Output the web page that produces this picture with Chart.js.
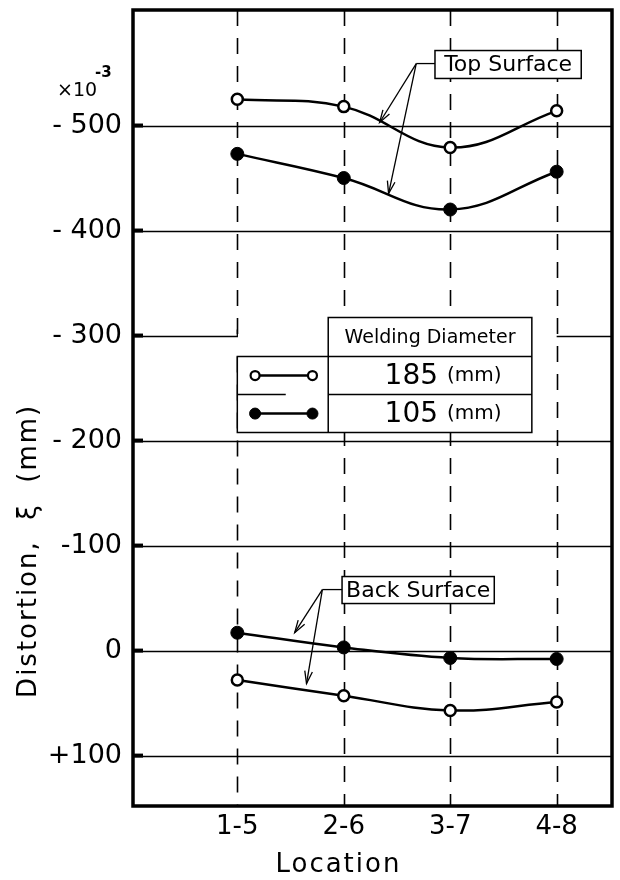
<!DOCTYPE html>
<html>
<head>
<meta charset="utf-8">
<script src="https://cdn.jsdelivr.net/npm/chart.js@4/dist/chart.umd.min.js"></script>
<style>
  html, body { margin: 0; padding: 0; background: #fff; }
  #wrap { width: 620px; height: 880px; }
</style>
</head>
<body>
<div id="wrap"><canvas id="chart" width="620" height="880"></canvas></div>
<script>
// --- Data ---
const locations = ['1-5', '2-6', '3-7', '4-8'];
const locationPos = [1, 2, 3, 4];

// distortion (x10^-3 mm), negative is upward on this plot
const top185 = [-525, -518, -479, -514];
const top105 = [-473, -450, -420, -456];
const back105 = [-17, -3, 7, 8];
const back185 = [28, 43, 57, 49];

const yTickValues = [-500, -400, -300, -200, -100, 0, 100];
const yTickLabels = ['- 500', '- 400', '- 300', '- 200', '-100', '0', '+100'];

const FONT = 'DejaVu Sans';

// --- Annotation layout (in data units) ---
const legendBox = { x0: 1.0, xm: 1.854, x1: 3.767, top: -317.1, r1: -280, r2: -243.8, bottom: -207.6 };
const topLabel = { x0: 2.857, x1: 4.231, y0: -571.4, y1: -544.8, corner: [2.681, -559], tips: [[2.337, -502.9], [2.421, -435.2]] };
const backLabel = { x0: 1.984, x1: 3.414, y0: -70.5, y1: -44.8, corner: [1.799, -58.1], tips: [[1.539, -17.1], [1.650, 31.4]] };

function pts(vals) {
  return vals.map((v, i) => ({ x: locationPos[i], y: v }));
}

function series(label, vals, filled) {
  return {
    label,
    data: pts(vals),
    borderColor: '#000',
    borderWidth: 2.5,
    tension: 0.4,
    pointRadius: filled ? 6.5 : 5.5,
    pointBackgroundColor: filled ? '#000' : '#fff',
    pointBorderColor: '#000',
    pointBorderWidth: filled ? 1 : 2.5,
    clip: false
  };
}

function arrow(ctx, x0, y0, x1, y1) {
  ctx.beginPath();
  ctx.moveTo(x0, y0);
  ctx.lineTo(x1, y1);
  ctx.stroke();
  const a = Math.atan2(y1 - y0, x1 - x0);
  const len = 13, spread = 0.3;
  ctx.beginPath();
  ctx.moveTo(x1 - len * Math.cos(a - spread), y1 - len * Math.sin(a - spread));
  ctx.lineTo(x1, y1);
  ctx.lineTo(x1 - len * Math.cos(a + spread), y1 - len * Math.sin(a + spread));
  ctx.stroke();
}

const paperPlugin = {
  id: 'paper',
  beforeDatasetsDraw(chart) {
    const { ctx, chartArea: a, scales: { x, y } } = chart;
    ctx.save();
    ctx.strokeStyle = '#000';
    // horizontal grid lines, -300 broken by the legend table
    ctx.lineWidth = 1.3;
    yTickValues.forEach(v => {
      const py = Math.round(y.getPixelForValue(v)) + 0.5;
      ctx.beginPath();
      if (v === -300) {
        ctx.moveTo(a.left, py); ctx.lineTo(x.getPixelForValue(1), py);
        ctx.lineTo(x.getPixelForValue(1), py - 7);
        ctx.moveTo(x.getPixelForValue(4), py); ctx.lineTo(a.right, py);
      } else {
        ctx.moveTo(a.left, py); ctx.lineTo(a.right, py);
      }
      ctx.stroke();
    });
    // vertical dashed lines at each location
    ctx.lineWidth = 1.6;
    ctx.setLineDash([16, 12]);
    locationPos.forEach(p => {
      const px = Math.round(x.getPixelForValue(p)) + 0.5;
      ctx.beginPath();
      if (p === 1) {
        ctx.moveTo(px, a.top); ctx.lineTo(px, y.getPixelForValue(-300));
        ctx.moveTo(px, y.getPixelForValue(-280)); ctx.lineTo(px, a.bottom);
      } else {
        ctx.moveTo(px, a.top); ctx.lineTo(px, a.bottom);
      }
      ctx.stroke();
    });
    ctx.setLineDash([]);
    ctx.restore();
  },
  afterDatasetsDraw(chart) {
    const { ctx, chartArea: a, scales: { x, y } } = chart;
    const X = v => x.getPixelForValue(v), Y = v => y.getPixelForValue(v);
    ctx.save();
    ctx.strokeStyle = '#000';
    ctx.fillStyle = '#000';

    // frame
    ctx.lineWidth = 3.5;
    ctx.strokeRect(a.left, a.top, a.right - a.left, a.bottom - a.top);
    // small tick marks inside left axis
    ctx.lineWidth = 4;
    yTickValues.forEach(v => {
      ctx.beginPath();
      ctx.moveTo(a.left, Y(v)); ctx.lineTo(a.left + 10, Y(v));
      ctx.stroke();
    });

    // legend table
    const L = legendBox;
    ctx.fillStyle = '#fff';
    ctx.fillRect(X(L.xm), Y(L.top), X(L.x1) - X(L.xm), Y(L.bottom) - Y(L.top));
    ctx.fillRect(X(L.x0), Y(L.r1), X(L.xm) - X(L.x0), Y(L.bottom) - Y(L.r1));
    ctx.lineWidth = 1.5;
    ctx.beginPath();
    ctx.rect(X(L.xm), Y(L.top), X(L.x1) - X(L.xm), Y(L.bottom) - Y(L.top));
    ctx.rect(X(L.x0), Y(L.r1), X(L.x1) - X(L.x0), Y(L.bottom) - Y(L.r1));
    ctx.moveTo(X(L.xm), Y(L.r2)); ctx.lineTo(X(L.x1), Y(L.r2));
    ctx.moveTo(X(L.x0), Y(L.r2)); ctx.lineTo(X(1.455), Y(L.r2));
    ctx.stroke();
    // legend symbols
    const symY = [(L.r1 + L.r2) / 2, (L.r2 + L.bottom) / 2];
    [false, true].forEach((filled, i) => {
      const sy = Y(symY[i]), sx0 = X(1.167), sx1 = X(1.706);
      ctx.lineWidth = 2.5;
      ctx.beginPath(); ctx.moveTo(sx0, sy); ctx.lineTo(sx1, sy); ctx.stroke();
      [sx0, sx1].forEach(sx => {
        ctx.beginPath();
        ctx.arc(sx, sy, filled ? 5.5 : 4.5, 0, Math.PI * 2);
        ctx.fillStyle = filled ? '#000' : '#fff';
        ctx.fill();
        ctx.lineWidth = filled ? 1 : 2.2;
        ctx.stroke();
      });
    });
    // legend text
    ctx.fillStyle = '#000';
    ctx.textBaseline = 'middle';
    ctx.textAlign = 'center';
    ctx.font = '19px ' + FONT;
    ctx.fillText('Welding Diameter', (X(L.xm) + X(L.x1)) / 2, (Y(L.top) + Y(L.r1)) / 2 + 1);
    ['185', '105'].forEach((d, i) => {
      const cy = Y(symY[i]) + 1;
      const cx = (X(L.xm) + X(L.x1)) / 2 + 12;
      ctx.textAlign = 'right';
      ctx.font = '28px ' + FONT;
      ctx.fillText(d, cx - 4, cy);
      ctx.textAlign = 'left';
      ctx.font = '20px ' + FONT;
      ctx.fillText('(mm)', cx + 5, cy - 1);
    });

    // callout boxes with arrows
    [[topLabel, 'Top Surface'], [backLabel, 'Back Surface']].forEach(([b, txt]) => {
      const bx = X(b.x0), by = Y(b.y0), bw = X(b.x1) - bx, bh = Y(b.y1) - by;
      ctx.fillStyle = '#fff';
      ctx.fillRect(bx, by, bw, bh);
      ctx.lineWidth = 1.5;
      ctx.strokeRect(bx, by, bw, bh);
      ctx.fillStyle = '#000';
      ctx.font = '22px ' + FONT;
      ctx.textAlign = 'center';
      ctx.textBaseline = 'middle';
      ctx.fillText(txt, bx + bw / 2, by + bh / 2 + 1);
      const cx = X(b.corner[0]), cy = Y(b.corner[1]);
      ctx.lineWidth = 1.3;
      ctx.beginPath(); ctx.moveTo(bx, cy); ctx.lineTo(cx, cy); ctx.stroke();
      b.tips.forEach(t => arrow(ctx, cx, cy, X(t[0]), Y(t[1])));
    });

    // axis unit x10^-3
    ctx.textAlign = 'left';
    ctx.textBaseline = 'alphabetic';
    ctx.font = '19px ' + FONT;
    ctx.fillText('×10', a.left - 76, Y(-528));
    ctx.font = 'bold 15px ' + FONT;
    ctx.fillText('-3', a.left - 38, Y(-546));

    // y axis title
    ctx.save();
    ctx.translate(a.left - 104, Y(-95));
    ctx.rotate(-Math.PI / 2);
    ctx.textAlign = 'center';
    ctx.textBaseline = 'middle';
    ctx.font = '26px ' + FONT;
    ctx.letterSpacing = '2px';
    ctx.fillText('Distortion,  ξ  (mm)', 0, 0);
    ctx.restore();

    // x axis title
    ctx.textAlign = 'center';
    ctx.font = '26px ' + FONT;
    ctx.letterSpacing = '2px';
    ctx.fillText('Location', X(1.95), a.bottom + 66);
    ctx.restore();
  }
};

new Chart(document.getElementById('chart'), {
  type: 'line',
  data: {
    datasets: [
      series('Top 185', top185, false),
      series('Top 105', top105, true),
      series('Back 105', back105, true),
      series('Back 185', back185, false)
    ]
  },
  options: {
    responsive: false,
    animation: false,
    layout: { padding: { top: 10, right: 2, left: 0, bottom: 0 } },
    plugins: { legend: { display: false }, tooltip: { enabled: false } },
    scales: {
      x: {
        type: 'linear', min: 0.02, max: 4.52,
        afterBuildTicks: s => { s.ticks = locationPos.map(v => ({ value: v })); },
        afterFit: s => { s.height = 74; s.paddingLeft = 0; s.paddingRight = 0; },
        ticks: {
          callback: v => locations[locationPos.indexOf(v)],
          font: { family: FONT, size: 26 }, color: '#000',
          padding: 6, maxRotation: 0, autoSkip: false
        },
        grid: { display: false, drawTicks: false },
        border: { display: false }
      },
      y: {
        type: 'linear', reverse: true, min: -610, max: 148,
        afterBuildTicks: s => { s.ticks = yTickValues.map(v => ({ value: v })); },
        afterFit: s => { s.width = 133; s.paddingTop = 0; s.paddingBottom = 0; },
        ticks: {
          callback: v => yTickLabels[yTickValues.indexOf(v)],
          font: { family: FONT, size: 27 }, color: '#000', padding: 11
        },
        grid: { display: false, drawTicks: false },
        border: { display: false }
      }
    }
  },
  plugins: [paperPlugin]
});
</script>
</body>
</html>
